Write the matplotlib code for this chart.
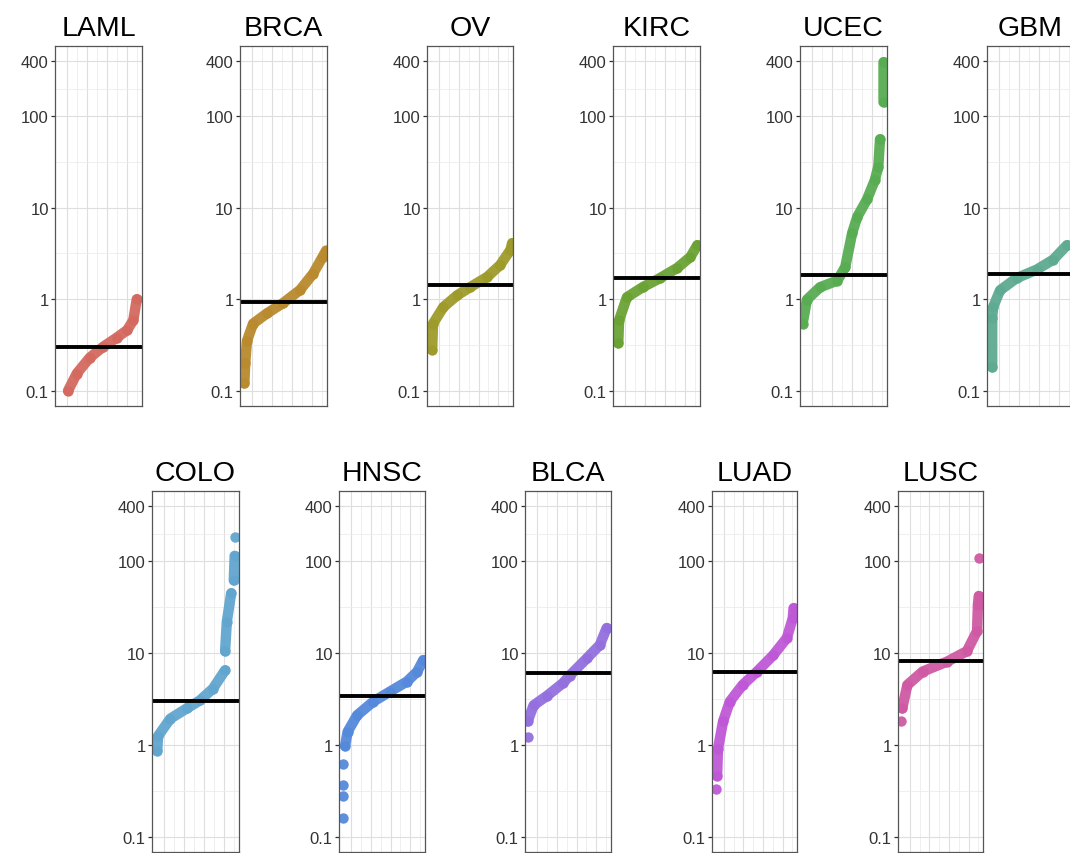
import numpy as np
import matplotlib
matplotlib.use("Agg")
import matplotlib.pyplot as plt

plt.rcParams['font.family'] = ['Liberation Sans', 'DejaVu Sans']

# 每个癌种: 排序后的位置(0-1) 和 数值, nan 表示断开
laml_rank = [0.15, 0.25, 0.40, 0.55, 0.71, 0.83, 0.90, 0.94]
laml_val = [0.10, 0.154, 0.23, 0.30, 0.38, 0.46, 0.59, 1.0]

brca_rank = [0.05, 0.06, 0.08, 0.15, 0.31, 0.49, 0.69, 0.84, 0.95, 0.99]
brca_val = [0.12, 0.2, 0.35, 0.54, 0.70, 0.90, 1.26, 1.9, 2.9, 3.4]

ov_rank = [0.06, 0.07, 0.19, 0.35, 0.50, 0.70, 0.85, 0.97, 0.99]
ov_val = [0.28, 0.54, 0.82, 1.1, 1.35, 1.75, 2.36, 3.45, 4.1]

kirc_rank = [0.06, 0.07, 0.16, 0.34, 0.54, 0.74, 0.89, 0.97]
kirc_val = [0.33, 0.59, 1.05, 1.35, 1.7, 2.2, 2.9, 3.9]

ucec_rank = [0.03, 0.08, 0.23, 0.43, 0.52, 0.60, 0.66, 0.77, 0.86, 0.90, 0.92, np.nan, 0.96, 0.96]
ucec_val = [0.54, 0.99, 1.35, 1.6, 2.25, 5.3, 8.0, 12.3, 20, 28, 56, np.nan, 142, 390]

gbm_rank = [0.06, 0.06, 0.07, 0.15, 0.34, 0.57, 0.76, 0.92]
gbm_val = [0.18, 0.63, 0.82, 1.25, 1.7, 2.1, 2.7, 3.9]

colo_rank = [0.06, 0.07, 0.21, 0.40, 0.55, 0.70, 0.84, np.nan, 0.84, 0.86, 0.91, np.nan, 0.94, 0.95, np.nan, 0.95]
colo_val = [0.86, 1.25, 1.93, 2.5, 3.05, 4.1, 6.5, np.nan, 10.5, 22, 45, np.nan, 62, 115, np.nan, 184]

hnsc_rank = [0.05, np.nan, 0.05, np.nan, 0.05, np.nan, 0.05, np.nan, 0.07, 0.10, 0.21, 0.40, 0.59, 0.79, 0.91, 0.98]
hnsc_val = [0.16, np.nan, 0.28, np.nan, 0.37, np.nan, 0.62, np.nan, 0.97, 1.39, 2.1, 2.97, 3.8, 4.9, 6.3, 8.4]

blca_rank = [0.03, np.nan, 0.03, 0.10, 0.26, 0.44, 0.52, 0.72, 0.87, 0.95]
blca_val = [1.22, np.nan, 1.8, 2.7, 3.45, 4.7, 5.7, 8.8, 12.3, 18.8]

luad_rank = [0.05, np.nan, 0.06, 0.07, 0.13, 0.21, 0.36, 0.53, 0.72, 0.88, 0.95, 0.96]
luad_val = [0.33, np.nan, 0.46, 0.9, 1.8, 2.97, 4.5, 6.3, 9.5, 14.6, 24, 31]

lusc_rank = [0.035, np.nan, 0.05, 0.11, 0.29, 0.58, 0.81, 0.93, 0.94, 0.95, np.nan, 0.95]
lusc_val = [1.83, np.nan, 2.5, 4.5, 6.3, 8.1, 10.5, 17.4, 33.6, 42, np.nan, 108]

names = ["LAML", "BRCA", "OV", "KIRC", "UCEC", "GBM",
         "COLO", "HNSC", "BLCA", "LUAD", "LUSC"]
medians = [0.30, 0.93, 1.44, 1.72, 1.84, 1.9,
           3.04, 3.45, 6.0, 6.3, 8.2]
colors = ["#D4695F", "#B98A2E", "#9E9B2B", "#6BA234", "#58AC52", "#5FAA92",
          "#62A6CF", "#5589DB", "#9470DF", "#BF58D6", "#CF5AA3"]
ranks = [laml_rank, brca_rank, ov_rank, kirc_rank, ucec_rank, gbm_rank,
         colo_rank, hnsc_rank, blca_rank, luad_rank, lusc_rank]
vals = [laml_val, brca_val, ov_val, kirc_val, ucec_val, gbm_val,
        colo_val, hnsc_val, blca_val, luad_val, lusc_val]

yticks = [0.1, 1, 10, 100, 400]
ylabels = ["0.1", "1", "10", "100", "400"]

W, H = 1070, 854
fig = plt.figure(figsize=(W / 100, H / 100), dpi=100)

# 面板像素位置 (left, top, width, height)
boxes = [(55, 47, 87, 360), (240, 47, 87, 360), (427, 47, 86, 360),
         (613, 47, 87, 360), (800, 47, 87, 360), (987, 47, 87, 360),
         (152, 492, 87, 361), (339, 492, 86, 361), (525, 492, 86, 361),
         (712, 492, 85, 361), (898, 492, 85, 361)]

for i in range(len(names)):
    l, t, w, h = boxes[i]
    ax = fig.add_axes([l / W, 1 - (t + h) / H, w / W, h / H])
    ax.set_yscale("log")
    ax.set_ylim(0.068, 585)
    ax.set_xlim(0, 1)

    # 网格
    ax.set_yticks(yticks)
    ax.set_yticklabels(ylabels)
    ax.set_yticks([0.316, 3.16, 31.6, 200], minor=True)
    ax.yaxis.set_minor_formatter(matplotlib.ticker.NullFormatter())
    ax.set_xticks([0.14, 0.37, 0.60, 0.83])
    ax.set_xticks([0.255, 0.485, 0.715, 0.945], minor=True)
    ax.grid(which="major", color="#dedede", linewidth=0.8)
    ax.grid(which="minor", color="#ececec", linewidth=0.6)
    ax.set_axisbelow(True)
    ax.tick_params(axis="x", which="both", length=0, labelbottom=False)
    ax.tick_params(axis="y", which="major", length=3, width=0.9, color="#333333",
                   labelsize=12, labelcolor="#333333", pad=1.5)
    ax.tick_params(axis="y", which="minor", length=0)
    for s in ax.spines.values():
        s.set_color("#555555")
        s.set_linewidth(0.9)

    ax.plot(ranks[i], vals[i], color=colors[i], linewidth=7.5,
            solid_capstyle="round", solid_joinstyle="round",
            marker="o", markersize=7.5, markeredgewidth=0, alpha=0.95)
    ax.axhline(medians[i], color="black", linewidth=2.8)
    ax.set_title(names[i], fontsize=20.5, pad=8)

plt.savefig("out.png", dpi=100)
